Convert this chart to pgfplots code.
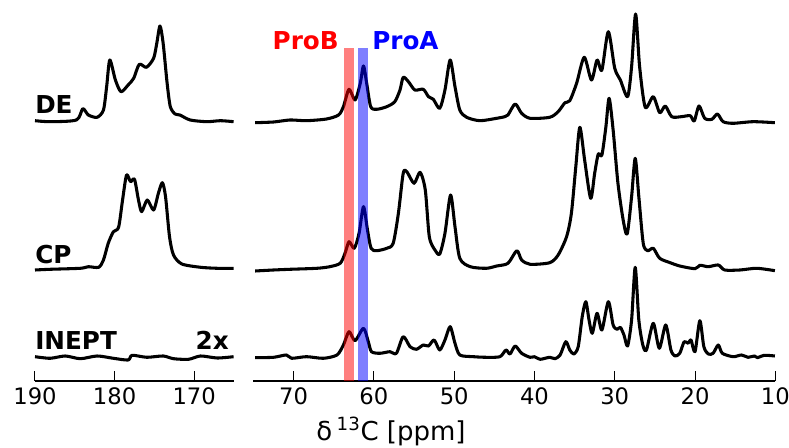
\documentclass[border=0pt]{standalone}
\usepackage{fontspec}
\setmainfont{DejaVu Sans}
\usepackage{pgfplots}
\pgfplotsset{compat=1.18}

% heights are given in px above the ppm axis line
\pgfplotsset{nmr/.style={
  scale only axis, height=278.25pt, ymin=0, ymax=371,
  enlargelimits=false, x dir=reverse, clip=false,
  axis x line*=bottom, axis y line=none, ytick=\empty,
  x axis line style={line width=1.5pt},
  xtick align=inside, major tick length=7.5pt,
  tick style={line width=0.75pt,black},
  /pgf/number format/assume math mode=true,
  ticklabel style={font=\fontsize{17}{17}\selectfont},
  xticklabel shift=1.5pt},
  spec/.style={black,line width=2.3pt,smooth,tension=0.45,line join=round}}

\begin{document}
\begin{tikzpicture}
\useasboundingbox (0,0) rectangle (591.75pt,336pt);

\begin{axis}[nmr, at={(26.25pt,50.25pt)}, anchor=south west,
  width=149.25pt, xmin=165, xmax=190, xtick={170,180,190}]
% DE
\addplot[spec] coordinates {(190,260.3) (188.1,259.3) (184.8,261) (184.0,272.3) (183.3,266)
 (182.2,263.7) (181.4,271) (181.0,294.3) (180.6,321) (179.9,301) (179.2,289.3) (178.3,296)
 (177.6,302.7) (176.9,316.7) (176.0,313.7) (175.1,322.7) (174.7,337.7) (174.3,355)
 (173.9,337.7) (173.4,297.7) (173.0,274.3) (172.4,267) (171.8,266) (170.5,261)
 (168.4,259.3) (166.7,260.3) (165.05,259.3)};
% CP
\addplot[spec] coordinates {(190,111) (188.1,111.7) (184.3,112.7) (183.3,114.3) (182.0,113.7)
 (181.4,121) (180.8,137.7) (180.15,149.3) (179.5,153.7) (179.0,181) (178.5,206)
 (178.0,199.3) (177.5,201.7) (177.0,181) (176.6,169.3) (175.9,181) (175.1,171)
 (174.5,187.7) (174.0,198.3) (173.6,184.3) (173.1,144.3) (172.6,126) (171.55,117)
 (169.2,113.7) (167.1,112.7) (165.05,112.7)};
% INEPT (2x)
\addplot[spec] coordinates {(190,24.3) (188.1,22.7) (186.2,25) (184.3,22.3) (182.2,25)
 (180.15,22.7) (178.3,21) (177.8,25.7) (175.95,23.7) (173.9,25) (172.6,22.3)
 (170.7,21.7) (169.2,25) (167.1,23) (165.05,24.3)};
\end{axis}

\begin{axis}[nmr, at={(190.125pt,50.25pt)}, anchor=south west,
  width=391.35pt, xmin=10, xmax=75, xtick={10,20,...,70}]
% DE
\addplot[spec] coordinates {(74.8,258.3) (72.5,259) (70.45,261) (68.4,260.3) (65.9,262)
 (64.4,266) (63.8,274.3) (63.1,291.7) (62.35,281) (61.7,297.7) (61.3,315) (60.9,297.7)
 (60.4,274.3) (59.65,271.7) (58.4,274.3) (57.4,279.3) (56.75,291) (56.35,303.7)
 (55.7,299.3) (54.9,291) (53.85,291.7) (53.2,284.3) (52.6,281.7) (51.8,272.7)
 (51.15,291) (50.5,321) (49.9,294.3) (49.3,271) (48.45,263.7) (46.8,260.3)
 (44.7,262.7) (43.7,264.3) (43.3,266) (42.4,277) (41.6,267.7) (40.55,262.7)
 (38.1,263.7) (37.05,269.3) (36.2,278.3) (35.6,280.3) (34.75,297.7) (33.8,323.7)
 (32.9,301) (32.2,321) (31.6,311) (30.8,349.3) (30.0,312.7) (29.3,301) (28.4,284.3)
 (27.9,314.3) (27.4,367) (26.9,314.3) (26.2,273.7) (25.2,284.3) (24.4,268.3)
 (23.7,275) (22.9,264.3) (21.7,264.3) (20.6,265.3) (20.1,260) (19.5,275) (18.8,262.7)
 (17.9,261.7) (17.2,267) (16.5,259.3) (15.25,257.7) (12.75,259.3) (10.05,258.3)};
% CP
\addplot[spec] coordinates {(74.8,110) (72.5,111) (70.45,111.7) (67.1,112.7) (65.5,114.3)
 (64.2,117.7) (63.6,127.7) (63.1,139.3) (62.45,132.7) (61.85,147.7) (61.3,174.3)
 (60.8,151) (60.35,132.7) (59.65,130.3) (58.4,132.7) (57.6,137.7) (56.95,167.7)
 (56.35,207.7) (55.9,209.3) (55.0,197.7) (54.25,208.7) (53.6,191) (53.1,144.3)
 (52.4,131) (51.8,127) (51.15,147.7) (50.45,186) (49.9,154.3) (49.3,122.7) (48.0,114.3)
 (46.0,112.7) (44.7,115) (43.3,117.7) (42.2,130.3) (41.6,121) (40.55,116.7)
 (38.1,118.3) (37.05,126) (36.0,144.3) (35.4,167.7) (34.85,214.3) (34.35,253.7)
 (33.75,221) (33.0,182.7) (32.5,207.7) (32.05,227) (31.6,226) (31.1,254.3)
 (30.7,282.7) (30.2,251) (29.6,197.7) (28.95,161) (28.45,147) (27.9,184.3)
 (27.45,222.7) (27.0,184.3) (26.45,137.7) (25.9,130.3) (25.2,132.7) (24.4,122.7)
 (23.1,118.3) (21.9,115) (20.0,112.3) (19.4,115.7) (18.35,114.3) (17.1,116)
 (16.3,111) (14.4,111) (12.3,112.7) (10.05,110.3)};
% INEPT
\addplot[spec] coordinates {(74.8,23.3) (72.5,23.7) (70.9,26) (70.25,22.7) (68.4,24.3)
 (66.3,22.7) (64.6,26) (63.8,36) (63.1,49.3) (62.35,40.3) (61.3,52.7) (60.7,39.3)
 (60.3,29.3) (59.25,27.7) (58.0,29.3) (57.2,27.7) (56.35,44.3) (55.5,34.3) (54.7,31.7)
 (53.85,36) (53.2,35) (52.5,41) (51.8,31) (51.15,41) (50.5,54.3) (49.9,37.7)
 (49.3,26) (47.6,24.3) (46.0,23.7) (44.3,24.3) (43.55,31) (43.05,27) (42.4,35)
 (41.6,27.7) (40.55,23.7) (40.0,24.3) (39.3,21.7) (38.1,23.7) (37.45,22.3) (36.8,26)
 (36.1,39.3) (35.6,31) (35.1,27) (34.55,34.3) (34.05,64.3) (33.6,79.3) (33.2,61)
 (32.8,47.7) (32.2,67.7) (31.6,51) (30.8,79.3) (30.2,56) (29.7,51.7) (29.3,53.7)
 (28.85,46) (28.4,35) (27.9,61) (27.45,113.7) (27.0,61) (26.5,36) (26.05,31)
 (25.2,57.7) (24.45,32.7) (23.65,56) (23.0,31) (22.5,25) (21.9,27.7) (21.35,39.3)
 (20.85,37.7) (20.5,41) (20.0,29.3) (19.4,60.3) (18.9,34.3) (18.35,27) (17.75,27.7)
 (17.1,36) (16.6,27.7) (15.25,24.3) (14.2,26) (13.4,23.7) (12.6,25) (12.2,23.3)
 (11.4,25.7) (10.05,25)};
% ProB / ProA bands, drawn over the spectra
\fill[red,opacity=0.5] (axis cs:63.73,0) rectangle (axis cs:62.45,333);
\fill[blue,opacity=0.5] (axis cs:61.99,0) rectangle (axis cs:60.7,333);
\end{axis}

\begin{scope}[font=\fontsize{18.5}{18.5}\selectfont\bfseries, inner sep=0pt]
\node[anchor=base west] at (26.25pt,250.5pt) {DE};
\node[anchor=base west] at (26.25pt,138pt) {CP};
\node[anchor=base west] at (26.25pt,73.5pt) {INEPT};
\node[anchor=base east] at (171.75pt,73.5pt) {2x};
\node[anchor=base east,text=red] at (254.25pt,298.5pt) {ProB};
\node[anchor=base west,text=blue] at (279pt,298.5pt) {ProA};
\end{scope}
\node[anchor=base,inner sep=0pt,font=\fontsize{19.5}{19.5}\selectfont]
  at (293.25pt,5.6pt) {δ\,\textsuperscript{13}C [ppm]};
\end{tikzpicture}
\end{document}
